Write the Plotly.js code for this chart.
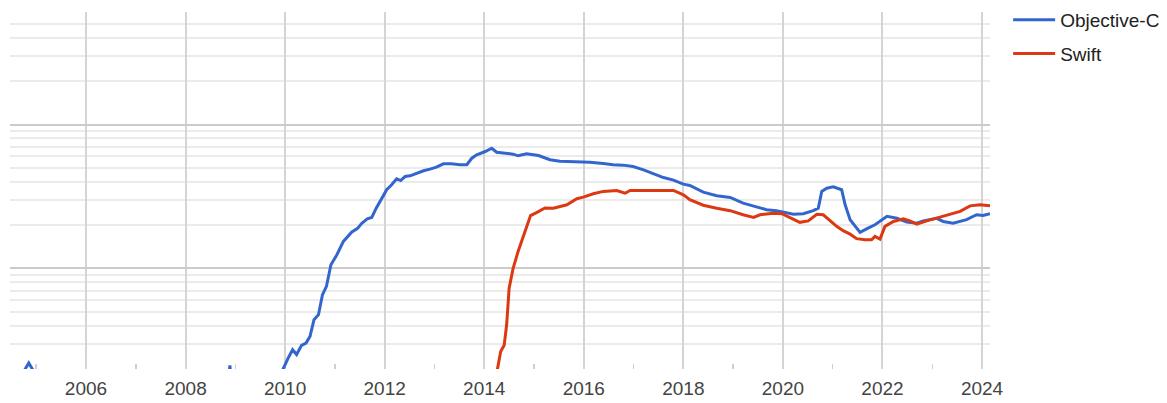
<!DOCTYPE html>
<html>
<head>
<meta charset="utf-8">
<script src="https://cdn.plot.ly/plotly-3.0.1.min.js"></script>
<style>
html,body{margin:0;padding:0;background:#fff;}
#chart{width:1167px;height:403px;}
</style>
</head>
<body>
<div id="chart"></div>
<script>
// Tick labels (even years) and minor tick positions (odd years)
const tickYears = [2006, 2008, 2010, 2012, 2014, 2016, 2018, 2020, 2022, 2024];
const tickLabels = ["2006", "2008", "2010", "2012", "2014", "2016", "2018", "2020", "2022", "2024"];
const minorYears = [2005, 2007, 2009, 2011, 2013, 2015, 2017, 2019, 2021, 2023];

// Log-scale grid values (decades and their digit subdivisions)
const decadeLines = [0.1, 1, 10, 100];
const digitLines = [0.2, 0.3, 0.4, 0.5, 0.6, 0.7, 0.8, 0.9, 2, 3, 4, 5, 6, 7, 8, 9, 20, 30, 40, 50, 60];

// Objective-C series (relative frequency, log scale)
const objcYears = [2004.47, 2004.70, 2004.85, 2005.00, 2005.20, 2008.80, 2008.89, 2008.97, 2009.90, 2009.96,
  2010.06, 2010.15, 2010.23, 2010.33, 2010.42, 2010.50, 2010.58, 2010.67, 2010.75, 2010.83,
  2010.92, 2011.04, 2011.17, 2011.34, 2011.45, 2011.54, 2011.65, 2011.74, 2011.83, 2011.94,
  2012.04, 2012.14, 2012.24, 2012.32, 2012.41, 2012.51, 2012.64, 2012.78, 2012.91, 2013.04,
  2013.18, 2013.34, 2013.51, 2013.65, 2013.75, 2013.85, 2014.02, 2014.15, 2014.25, 2014.45,
  2014.58, 2014.68, 2014.85, 2015.09, 2015.19, 2015.32, 2015.52, 2015.72, 2015.92, 2016.12,
  2016.39, 2016.59, 2016.79, 2016.99, 2017.20, 2017.40, 2017.60, 2017.80, 2018.00, 2018.13,
  2018.40, 2018.67, 2018.94, 2019.20, 2019.47, 2019.67, 2019.87, 2020.08, 2020.21, 2020.41,
  2020.61, 2020.71, 2020.78, 2020.88, 2021.01, 2021.18, 2021.25, 2021.35, 2021.45, 2021.55,
  2021.68, 2021.85, 2022.09, 2022.29, 2022.49, 2022.69, 2022.82, 2023.09, 2023.22, 2023.42,
  2023.69, 2023.89, 2024.02, 2024.16];
const objcValues = [0.1, 0.18, 0.22, 0.18, 0.1, 0.1, 0.212, 0.1, 0.1, 0.2,
  0.238, 0.272, 0.252, 0.292, 0.303, 0.337, 0.44, 0.477, 0.656, 0.75,
  1.06, 1.245, 1.54, 1.79, 1.89, 2.06, 2.21, 2.26, 2.62, 3.08,
  3.52, 3.81, 4.2, 4.08, 4.35, 4.4, 4.59, 4.77, 4.9, 5.05,
  5.33, 5.33, 5.25, 5.25, 5.83, 6.16, 6.49, 6.84, 6.42, 6.32,
  6.22, 6.06, 6.27, 6.09, 5.93, 5.69, 5.56, 5.53, 5.44, 5.47,
  5.36, 5.25, 5.22, 5.11, 4.84, 4.54, 4.28, 4.11, 3.85, 3.77,
  3.39, 3.2, 3.11, 2.84, 2.69, 2.56, 2.52, 2.42, 2.38, 2.4,
  2.52, 2.62, 3.43, 3.61, 3.69, 3.52, 2.77, 2.18, 1.96, 1.78,
  1.88, 2.01, 2.3, 2.23, 2.1, 2.06, 2.14, 2.23, 2.12, 2.06,
  2.18, 2.36, 2.33, 2.4];

// Swift series
const swiftYears = [2014.20, 2014.26, 2014.33, 2014.40, 2014.45, 2014.50, 2014.58, 2014.68, 2014.82, 2014.93,
  2015.05, 2015.22, 2015.39, 2015.66, 2015.86, 2015.99, 2016.19, 2016.39, 2016.66, 2016.83,
  2016.93, 2017.26, 2017.53, 2017.80, 2018.00, 2018.13, 2018.40, 2018.67, 2018.94, 2019.20,
  2019.41, 2019.54, 2019.81, 2019.98, 2020.14, 2020.34, 2020.51, 2020.68, 2020.81, 2020.95,
  2021.08, 2021.21, 2021.35, 2021.48, 2021.65, 2021.78, 2021.85, 2021.95, 2022.05, 2022.22,
  2022.42, 2022.55, 2022.69, 2022.89, 2023.15, 2023.36, 2023.56, 2023.76, 2023.96, 2024.16];
const swiftValues = [0.15, 0.2, 0.265, 0.292, 0.406, 0.73, 1.0, 1.31, 1.81, 2.33,
  2.44, 2.63, 2.62, 2.77, 3.05, 3.13, 3.3, 3.43, 3.48, 3.33,
  3.48, 3.46, 3.48, 3.48, 3.25, 3.0, 2.75, 2.62, 2.52, 2.36,
  2.26, 2.36, 2.42, 2.4, 2.26, 2.09, 2.14, 2.38, 2.36, 2.14,
  1.96, 1.83, 1.73, 1.61, 1.58, 1.58, 1.67, 1.6, 1.96, 2.12,
  2.21, 2.14, 2.03, 2.14, 2.26, 2.36, 2.49, 2.72, 2.77, 2.72];

const traces = [
  {x: objcYears, y: objcValues, name: "Objective-C", type: "scatter", mode: "lines",
   line: {color: "#3366cc", width: 3}, legendgroup: "a", hoverinfo: "skip"},
  {x: swiftYears, y: swiftValues, name: "Swift", type: "scatter", mode: "lines",
   line: {color: "#dc3912", width: 3}, legendgroup: "b", hoverinfo: "skip"}
];

const layout = {
  width: 1167, height: 403,
  margin: {l: 10, r: 177, t: 12, b: 34, pad: 0, autoexpand: false},
  paper_bgcolor: "#ffffff", plot_bgcolor: "#ffffff",
  font: {family: "Liberation Sans, Arial, sans-serif", size: 19, color: "#444"},
  showlegend: true,
  legend: {x: 1.0185, xanchor: "left", y: 1.031, yanchor: "top", bgcolor: "rgba(0,0,0,0)",
           font: {size: 19, color: "#222"}, itemwidth: 42, tracegroupgap: 6, traceorder: "grouped"},
  xaxis: {
    range: [2004.473, 2024.16], tickmode: "array", tickvals: tickYears, ticktext: tickLabels,
    ticks: "", showgrid: true, gridcolor: "#d4d4d4", gridwidth: 2, zeroline: false, showline: false,
    tickfont: {size: 19, color: "#444"}, ticklabelstandoff: 6,
    minor: {tickmode: "array", tickvals: minorYears, ticks: "inside", ticklen: 5, tickwidth: 1.5,
            tickcolor: "#cfcfcf", showgrid: false}
  },
  yaxis: {
    type: "log", range: [Math.log10(0.2), Math.log10(60.5)],
    tickmode: "array", tickvals: decadeLines, showticklabels: false, ticks: "",
    showgrid: true, gridcolor: "#cbcbcb", gridwidth: 2, zeroline: false, showline: false,
    minor: {tickmode: "array", tickvals: digitLines, ticks: "", showgrid: true, gridcolor: "#ebebeb", gridwidth: 2}
  }
};

Plotly.newPlot("chart", traces, layout, {staticPlot: true, displayModeBar: false});
</script>
</body>
</html>
